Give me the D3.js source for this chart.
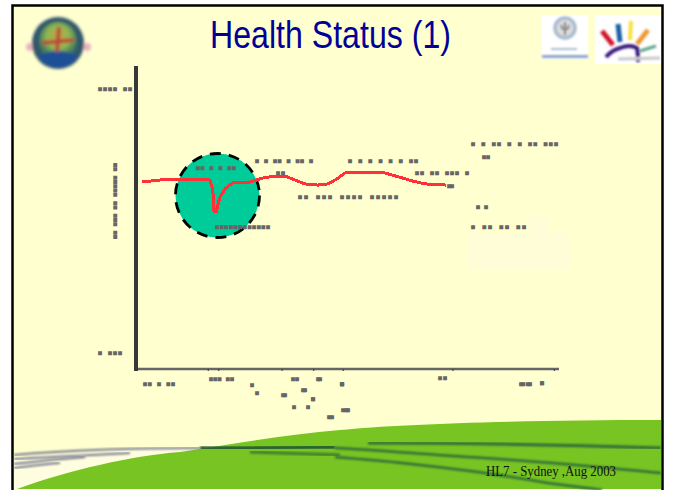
<!DOCTYPE html>
<html>
<head>
<meta charset="utf-8">
<script src="https://cdn.jsdelivr.net/npm/d3@7"></script>
<style>
  html, body { margin: 0; padding: 0; background: #fff; }
  svg { display: block; }
</style>
</head>
<body>
<div id="chart"></div>
<script>
// health level (0-100) along the life course (0-100)
const lifeCourse = [1.4, 5.7, 9.2, 15.2, 17.5, 18.2, 18.5, 19, 19.9, 21.3, 23.2, 27, 29.9, 33, 35.8, 37.7, 40, 43.1, 45.5, 47.6, 49.5, 53.1, 58.3, 60.7, 63.3, 65.4, 68.5, 73.5];
const healthLevel = [61.9, 62.6, 62.9, 62.9, 62.6, 59.3, 52, 52, 57, 59.9, 61.9, 61.9, 63.2, 63.9, 63.6, 62.6, 61.3, 60.9, 61.3, 62.9, 64.9, 65.2, 65.2, 64.2, 63.2, 62.3, 61.3, 60.9];
const xTicks = [17, 19.5, 34.5, 42, 49, 75, 99];

// the source labels are only specks at this resolution, so specks are what is kept
const yLabels = ["▪▪▪▪  ▪▪", "▪ ▪▪▪"];
const yTitle = "▪▪ ▪▪▪ ▪▪ ▪▪▪▪▪ ▪▪";
const xLabels = ["▪▪  ▪ ▪▪", "▪▪▪   ▪▪", "▪ ▪", "▪ ▪", "▪ ▪▪", "▪ ▪", "▪▪ ▪▪", "▪ ▪"];
const noteLabels = ["▪▪ ▪ ▪ ▪▪", "▪▪▪▪▪▪▪▪▪▪▪▪", "▪ ▪ ▪▪ ▪ ▪▪ ▪", "▪ ▪", "▪▪ ▪▪▪ ▪▪▪▪ ▪▪▪▪▪", "▪ ▪ ▪ ▪ ▪ ▪ ▪▪", "▪▪ ▪▪ ▪▪▪ ▪", "▪ ▪ ▪▪ ▪ ▪ ▪▪ ▪▪▪", "▪▪", "▪▪", "▪ ▪▪ ▪▪ ▪▪"];
const scatterLabels = ["▪", "▪", "▪ ▪", "▪ ▪", "▪ ▪", "▪▪", "▪▪", "▪ ▪▪"];

const footer = "HL7 -  Sydney ,Aug 2003";
const title = "Health Status (1)";

const W = 675, H = 490;
const svg = d3.select("#chart").append("svg").attr("width", W).attr("height", H);
const defs = svg.append("defs");
defs.append("filter").attr("id", "soft").append("feGaussianBlur").attr("stdDeviation", 0.8);
defs.append("filter").attr("id", "softer").append("feGaussianBlur").attr("stdDeviation", 1.6);

// slide
svg.append("rect").attr("x", 12.5).attr("y", 5.5).attr("width", 650).attr("height", 490)
    .attr("fill", "#ffffd0").attr("stroke", "#000").attr("stroke-width", 2.5);

// faint patches
svg.append("rect").attr("x", 468).attr("y", 233).attr("width", 102).attr("height", 37).attr("fill", "#fffcd8");
svg.append("rect").attr("x", 529).attr("y", 215).attr("width", 19).attr("height", 18).attr("fill", "#fffcd8");

// swoosh
const swoosh = svg.append("g");
swoosh.append("path")
    .attr("d", "M14,458 C70,452 130,448 195,447 L200,452 C130,458 70,472 22,489 L14,489 Z")
    .attr("fill", "#fffde0");
swoosh.append("path")
    .attr("d", "M17,489 C70,470 130,456 180,452 C240,443 290,434 340,430 C400,424 520,420 661,420 L661,489 Z")
    .attr("fill", "#78c422");
const darkLines = [
    ["M200,448 C240,449 280,447 335,447", "#245a30", 4],
    ["M250,452 C280,453 310,454 340,455", "#3c7a34", 3],
    ["M368,443 C460,443 570,445 661,448", "#2f6b3a", 3],
    ["M335,448 C380,450 430,455 468,457 C500,459 530,461 552,463 C590,466 630,470 661,473", "#2f6b3a", 2.5],
    ["M335,457 C360,459 385,461 402,463 C430,466 455,469 478,472 C505,476 530,480 548,483 C570,486 590,488 602,490", "#2f6b3a", 2.5]
];
swoosh.selectAll(".dark").data(darkLines).enter().append("path")
    .attr("class", "dark")
    .attr("d", function (d) { return d[0]; })
    .attr("fill", "none")
    .attr("stroke", function (d) { return d[1]; })
    .attr("stroke-width", function (d) { return d[2]; })
    .attr("filter", "url(#soft)");
const greyLines = [
    "M14,455 C70,450 130,448 200,448",
    "M14,459 C60,456 100,455 130,453",
    "M14,464 C40,461 60,459 85,457",
    "M14,468 C30,466 45,464 60,463"
];
swoosh.selectAll(".grey").data(greyLines).enter().append("path")
    .attr("class", "grey")
    .attr("d", function (d) { return d; })
    .attr("fill", "none")
    .attr("stroke", "#74778a")
    .attr("stroke-width", 2)
    .attr("filter", "url(#soft)");

// title
svg.append("text").attr("x", 210).attr("y", 48)
    .attr("textLength", 241).attr("lengthAdjust", "spacingAndGlyphs")
    .attr("font-family", "Liberation Sans").attr("font-size", 39).attr("fill", "#000099")
    .text(title);

// globe logo
const globeFill = defs.append("radialGradient").attr("id", "globe").attr("cy", "40%");
globeFill.append("stop").attr("offset", "0%").attr("stop-color", "#c8a040");
globeFill.append("stop").attr("offset", "60%").attr("stop-color", "#8fb850");
globeFill.append("stop").attr("offset", "100%").attr("stop-color", "#3f7a60");
const globe = svg.append("g").attr("filter", "url(#softer)");
globe.append("circle").attr("cx", 30).attr("cy", 47).attr("r", 4).attr("fill", "#e8b4c0");
globe.append("circle").attr("cx", 87).attr("cy", 47).attr("r", 4).attr("fill", "#e8b4c0");
globe.append("circle").attr("cx", 58).attr("cy", 43).attr("r", 26).attr("fill", "#33566a");
globe.append("circle").attr("cx", 58).attr("cy", 41).attr("r", 19).attr("fill", "url(#globe)");
globe.append("path").attr("d", "M38,56 Q58,46 78,56 Q70,68 58,68 Q46,68 38,56 Z").attr("fill", "#1c4f96");
globe.append("path").attr("d", "M59,27 L57,52 M42,43 L74,40").attr("stroke", "#bb4a3a").attr("stroke-width", 4).attr("fill", "none");

// seal logo
svg.append("rect").attr("x", 542).attr("y", 15).attr("width", 46).attr("height", 44).attr("fill", "#fff");
const seal = svg.append("g").attr("filter", "url(#soft)");
seal.append("circle").attr("cx", 565).attr("cy", 28).attr("r", 10).attr("fill", "#ddd").attr("stroke", "#a8bcd0").attr("stroke-width", 3.5);
seal.append("path").attr("d", "M565,22 L565,35 M561,25 L563,30 M569,25 L567,30").attr("stroke", "#777").attr("stroke-width", 2);
seal.append("rect").attr("x", 551).attr("y", 48).attr("width", 26).attr("height", 2).attr("fill", "#a8bcd0");
seal.append("rect").attr("x", 542).attr("y", 55).attr("width", 46).attr("height", 3).attr("fill", "#8fa6c6");

// fan logo
svg.append("rect").attr("x", 595).attr("y", 15).attr("width", 66).attr("height", 49).attr("fill", "#fff");
const fanSpokes = [
    ["M602,31 L613,45", "#d0142c", 5], ["M618,24 L620,42", "#1c5fa8", 5],
    ["M631,21 L630,40", "#f8e040", 4], ["M648,30 L637,44", "#f09a30", 5],
    ["M656,46 L640,51", "#5fa88a", 3], ["M606,57 Q612,50 620,48 Q630,44 637,48 Q638,53 638,62", "#3a1a80", 4],
    ["M618,59 L660,58", "#c8c8c8", 3]
];
svg.append("g").attr("filter", "url(#soft)").selectAll("path").data(fanSpokes).enter().append("path")
    .attr("d", function (d) { return d[0]; })
    .attr("fill", "none")
    .attr("stroke", function (d) { return d[1]; })
    .attr("stroke-width", function (d) { return d[2]; });

// scales
const xScale = d3.scaleLinear().domain([0, 100]).range([136, 558]);
const yScale = d3.scaleLinear().domain([0, 100]).range([369, 67]);

// highlighted dip
svg.append("circle").attr("cx", 217.5).attr("cy", 195.5).attr("r", 42)
    .attr("fill", "#00cc99").attr("stroke", "#000").attr("stroke-width", 2.8)
    .attr("stroke-dasharray", "11 8");

// axes
const xAxis = svg.append("g").attr("transform", "translate(0,369)")
    .call(d3.axisBottom(xScale).tickValues(xTicks).tickSize(2).tickFormat(""));
xAxis.select(".domain").attr("stroke", "#666").attr("stroke-width", 2.5).attr("d", "M136,0H559");
xAxis.selectAll(".tick line").attr("stroke", "#333");

const yAxis = svg.append("g").attr("transform", "translate(136,0)")
    .call(d3.axisLeft(yScale).tickValues([]).tickSize(0));
yAxis.select(".domain").attr("stroke", "#383838").attr("stroke-width", 4).attr("d", "M0,371V66");

// health line
const line = d3.line()
    .x(function (d, i) { return xScale(lifeCourse[i]); })
    .y(function (d) { return yScale(d); });
svg.append("path").datum(healthLevel)
    .attr("d", line)
    .attr("fill", "none")
    .attr("stroke", "#ff3038")
    .attr("stroke-width", 3)
    .attr("shape-rendering", "crispEdges");

// speck labels
function note(txt, x, y, width, rotate) {
    const t = svg.append("text")
        .attr("font-family", "DejaVu Sans Mono").attr("font-size", 10).attr("fill", "#666")
        .attr("textLength", width).attr("lengthAdjust", "spacing")
        .text(txt);
    if (rotate) t.attr("transform", "translate(" + x + "," + y + ") rotate(" + rotate + ")");
    else t.attr("x", x).attr("y", y);
}
note(yLabels[0], 97, 92, 36);
note(yLabels[1], 97, 356, 26);
note(yTitle, 118, 240, 78, -90);

note(xLabels[0], 142, 387, 34);
note(xLabels[1], 208, 382, 27);
note(xLabels[2], 290, 382, 10);
note(xLabels[3], 315, 382, 8);
note(xLabels[4], 339, 387, 6);
note(xLabels[5], 437, 381, 11);
note(xLabels[6], 518, 387, 15);
note(xLabels[7], 539, 386, 6);

note(noteLabels[0], 195, 171, 42);
note(noteLabels[1], 214, 230, 57);
note(noteLabels[2], 254, 164, 60);
note(noteLabels[3], 275, 176, 11);
note(noteLabels[4], 297, 200, 102);
note(noteLabels[5], 347, 164, 72);
note(noteLabels[6], 414, 176, 56);
note(noteLabels[7], 470, 147, 89);
note(noteLabels[8], 481, 160, 10);
note(noteLabels[9], 446, 189, 9);
note(noteLabels[10], 470, 230, 57);
note(noteLabels[8], 475, 210, 14);

note(scatterLabels[0], 249, 388, 3);
note(scatterLabels[1], 254, 396, 3);
note(scatterLabels[2], 280, 398, 4);
note(scatterLabels[3], 300, 393, 8);
note(scatterLabels[4], 291, 410, 20);
note(scatterLabels[5], 310, 402, 6);
note(scatterLabels[6], 326, 420, 9);
note(scatterLabels[7], 340, 413, 11);

// footer
svg.append("text").attr("x", 486).attr("y", 476)
    .attr("textLength", 130).attr("lengthAdjust", "spacingAndGlyphs")
    .attr("font-family", "Liberation Serif").attr("font-size", 14).attr("fill", "#111")
    .text(footer);
</script>
</body>
</html>
